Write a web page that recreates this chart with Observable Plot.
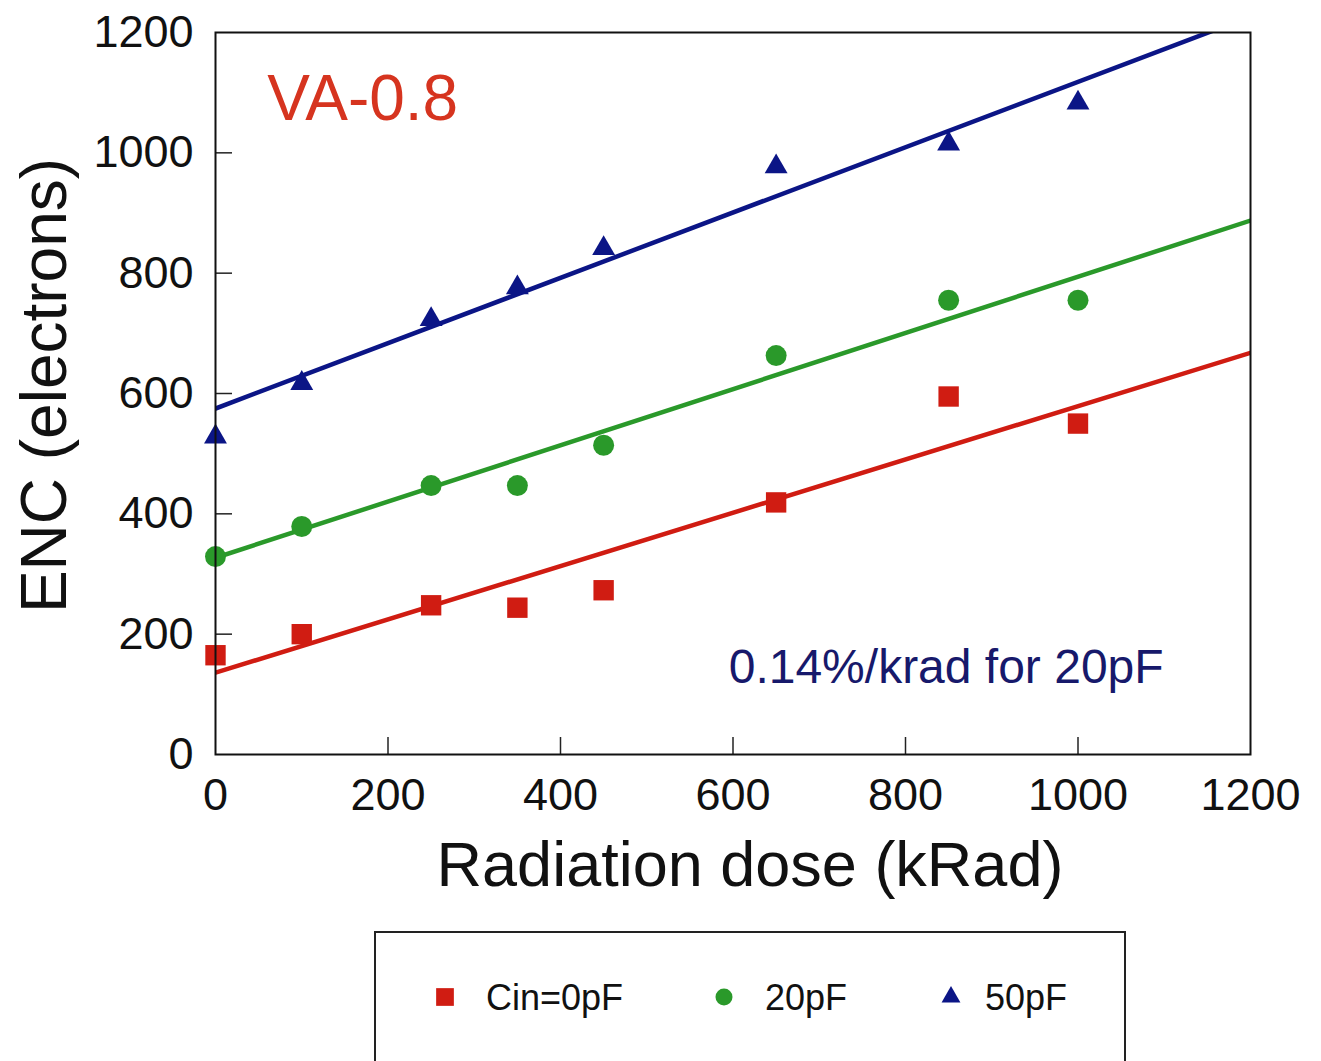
<!DOCTYPE html>
<html><head><meta charset="utf-8">
<script src="https://cdn.jsdelivr.net/npm/d3@7"></script>
<script src="https://cdn.jsdelivr.net/npm/@observablehq/plot@0.6"></script>
<style>
body{margin:0;background:#fff;font-family:"Liberation Sans",Arial,sans-serif;}
#wrap{position:relative;width:1321px;height:1061px;overflow:hidden;background:#fff;}
#legend{position:absolute;left:374px;top:931px;}
</style></head><body><div id="wrap"></div>
<script>
// ---- data ----
const doses = [0, 100, 250, 350, 450, 650, 850, 1000];
const enc0pF = [165, 200, 248, 244, 273, 419, 595, 550];
const enc20pF = [329, 379, 447, 447, 514, 663, 755, 755];
const enc50pF = [528, 617, 723, 776, 841, 977, 1015, 1083];
const seriesNames = ["Cin=0pF", "20pF", "50pF"];
const seriesValues = [enc0pF, enc20pF, enc50pF];
const seriesColors = ["#d01c12", "#2a992a", "#0b1586"];
const seriesSymbols = ["square", "circle", "triangle"];
const fitIntercepts = [136, 327, 575];
const fitSlopes = [0.443, 0.467, 0.543];
const xTicks = [0, 200, 400, 600, 800, 1000, 1200];
const yTicks = [0, 200, 400, 600, 800, 1000, 1200];
const xTitle = "Radiation dose (kRad)";
const yTitle = "ENC (electrons)";
const chipLabel = "VA-0.8";
const slopeNote = "0.14%/krad for 20pF";

// ---- tables built from the arrays ----
const points = seriesNames.flatMap((s, i) => doses.map((d, j) => ({series: s, dose: d, enc: seriesValues[i][j]})));
const fitRows = seriesNames.flatMap((s, i) => [xTicks[0], xTicks[xTicks.length - 1]].map(d => ({series: s, dose: d, enc: fitIntercepts[i] + fitSlopes[i] * d})));

const font = "'Liberation Sans', Arial, Helvetica, sans-serif";
const W = 1321, H = 920, mL = 215, mR = 71, mT = 32, mB = 166;
const plotW = W - mL - mR, plotH = H - mT - mB;
const tickLen = 17;
const symR = {square: 11.5, circle: 10.5, triangle: 8.5};

const chart = Plot.plot({
  width: W, height: H,
  marginLeft: mL, marginRight: mR, marginTop: mT, marginBottom: mB,
  style: {fontFamily: font, background: "white", color: "#111", overflow: "visible"},
  x: {domain: [0, 1200], ticks: xTicks},
  y: {domain: [0, 1200], ticks: yTicks},
  color: {domain: seriesNames, range: seriesColors},
  marks: [
    Plot.axisX(xTicks, {tickSize: 0, tickPadding: 24, fontSize: 45, label: null, fill: "#111", tickFormat: d => String(d)}),
    Plot.axisY(yTicks, {tickSize: 0, tickPadding: 22, fontSize: 45, label: null, fill: "#111", tickFormat: d => String(d)}),
    Plot.ruleX(xTicks.slice(1, -1), {x: d => d, stroke: "#222", strokeWidth: 1.5, insetTop: plotH - tickLen}),
    Plot.ruleY(yTicks.slice(1, -1), {y: d => d, stroke: "#222", strokeWidth: 1.5, insetRight: plotW - tickLen}),
    Plot.line(fitRows, {x: "dose", y: "enc", z: "series", stroke: "series", strokeWidth: 4.5, clip: true}),
    ...seriesNames.map((s, i) => Plot.dot(points.filter(p => p.series === s), {
      x: "dose", y: "enc", symbol: seriesSymbols[i], fill: seriesColors[i], stroke: "none", r: symR[seriesSymbols[i]]
    })),
    Plot.frame({stroke: "#111", strokeWidth: 2}),
    Plot.text([chipLabel], {x: 60, y: 1088, text: d => d, textAnchor: "start", lineAnchor: "middle", fontSize: 64, fill: "#d6341f"}),
    Plot.text([slopeNote], {x: 595, y: 145, text: d => d, textAnchor: "start", lineAnchor: "middle", fontSize: 48, fill: "#17196b"}),
    Plot.text([xTitle], {frameAnchor: "bottom", text: d => d, textAnchor: "middle", lineAnchor: "middle", dx: 17, dy: 111, fontSize: 63, fill: "#111"}),
    Plot.text([yTitle], {frameAnchor: "left", text: d => d, textAnchor: "middle", lineAnchor: "middle", rotate: -90, dx: -170, dy: -8, fontSize: 64, fill: "#111"})
  ]
});

const wrap = document.getElementById("wrap");
wrap.appendChild(chart);

// ---- legend below the plot ----
const lg = d3.create("svg").attr("id", "legend").attr("width", 754).attr("height", 150)
  .style("font-family", font);
lg.append("rect").attr("x", 1).attr("y", 1).attr("width", 750).attr("height", 200)
  .attr("fill", "white").attr("stroke", "#222").attr("stroke-width", 2);
const itemSym = [71, 350, 577];
const itemTxt = [112, 391, 611];
const cy = 66;
const d3sym = {square: d3.symbolSquare, circle: d3.symbolCircle, triangle: d3.symbolTriangle};
const legR = {square: 10, circle: 8.5, triangle: 7};
seriesNames.forEach((s, i) => {
  const r = legR[seriesSymbols[i]];
  lg.append("path").attr("transform", `translate(${itemSym[i]},${cy})`)
    .attr("d", d3.symbol(d3sym[seriesSymbols[i]], Math.PI * r * r)())
    .attr("fill", seriesColors[i]);
  lg.append("text").attr("x", itemTxt[i]).attr("y", cy + 13).attr("font-size", 36)
    .attr("fill", "#111").text(s);
});
wrap.appendChild(lg.node());
</script></body></html>
